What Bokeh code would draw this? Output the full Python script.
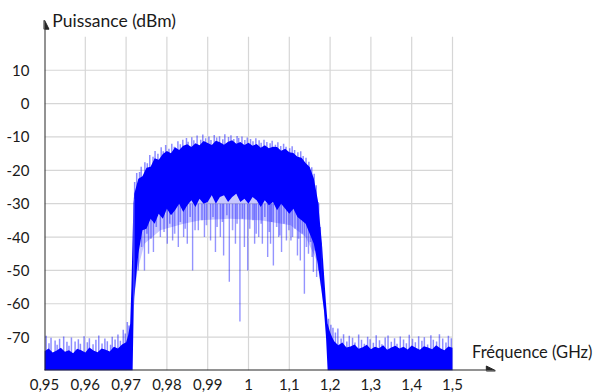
from bokeh.plotting import figure
from bokeh.models import Range1d, FixedTicker, Arrow, NormalHead, Label
from bokeh.embed import file_html
from bokeh.resources import INLINE

# ---- axis ticks ----
x_tick_pos = [0, 1, 2, 3, 4, 5, 6, 7, 8, 9, 10]
x_tick_labels = ["0,95", "0,96", "0,97", "0,98", "0,99", "1", "1,1", "1,2", "1,3", "1,4", "1,5"]
y_ticks = [10, 0, -10, -20, -30, -40, -50, -60, -70]
y_tick_labels = ["10", "0", "-10", "-20", "-30", "-40", "-50", "-60", "-70"]

# ---- dense part of the spectrum: position along axis, upper / lower level (dBm) ----
floor_l_x = [0.0, 0.1, 0.2, 0.3, 0.4, 0.5, 0.6, 0.7, 0.8, 0.9, 1.0, 1.1, 1.2, 1.3, 1.4,
             1.5, 1.6, 1.7, 1.8, 1.9, 2.0, 2.05, 2.10, 2.13, 2.16, 2.18]
floor_l_top = [-74.2, -73.4, -74.6, -74.0, -73.2, -74.4, -73.9, -74.8, -73.5, -73.9, -74.6,
               -73.1, -74.0, -74.5, -73.4, -73.8, -74.3, -72.9, -73.4, -72.2, -71.5, -69.5,
               -66, -55, -40, -30]
floor_l_bot = [-80] * 25 + [-66]

band_x = [2.2, 2.3, 2.4, 2.5, 2.6, 2.7, 2.8, 2.9, 3.0, 3.1, 3.2, 3.3, 3.4, 3.5, 3.6, 3.7,
          3.8, 3.9, 4.0, 4.1, 4.2, 4.3, 4.4, 4.5, 4.6, 4.7, 4.8, 4.9, 5.0, 5.1, 5.2, 5.3,
          5.4, 5.5, 5.6, 5.7, 5.8, 5.9, 6.0, 6.1, 6.2, 6.3, 6.4, 6.5, 6.6, 6.7, 6.8]
band_top = [-27, -22.5, -21.8, -19.2, -18.9, -16.4, -16.8, -15.1, -14.2, -14.9, -13.1, -13.9,
            -12.6, -12.2, -13.0, -11.9, -12.5, -11.2, -11.8, -12.4, -11.1, -11.6, -12.3, -11.4,
            -11.0, -12.0, -11.5, -12.4, -11.7, -12.6, -12.1, -13.2, -12.5, -13.4, -12.9, -13.0,
            -14.1, -13.5, -14.6, -14.8, -15.9, -16.2, -17.8, -19.0, -22.4, -29, -42]
band_bot = [-58, -45, -38, -37.5, -34.5, -36, -33, -34.5, -31.5, -33.5, -32, -30, -32.5,
            -30.5, -29, -31, -28.5, -30, -29.5, -27.5, -30, -28, -27.5, -29.5, -28, -27,
            -29.5, -28.5, -30, -28, -29, -31, -29, -30.5, -29.5, -32, -30, -31.5, -33, -31.5,
            -34, -35, -36, -39, -42, -48, -57]

floor_r_x = [6.85, 6.90, 6.94, 7.0, 7.05, 7.1, 7.2, 7.3, 7.4, 7.5, 7.6, 7.7, 7.8, 7.9, 8.0,
             8.1, 8.2, 8.3, 8.4, 8.5, 8.6, 8.7, 8.8, 8.9, 9.0, 9.1, 9.2, 9.3, 9.4, 9.5,
             9.6, 9.7, 9.8, 9.9, 10.0]
floor_r_top = [-51, -60, -66, -68.5, -70, -71.2, -72.4, -71.6, -73.1, -72.8, -72.2, -73.5, -73.0,
               -72.3, -73.6, -72.9, -73.3, -72.4, -73.8, -73.1, -72.6, -73.4, -72.9, -73.7,
               -72.5, -73.2, -73.8, -72.7, -73.1, -73.6, -72.4, -73.3, -73.9, -72.8, -73.2]
floor_r_bot = [-62, -70] + [-80] * 33

# lighter haze of the signal just below the dense band
light_x = [2.18, 2.28, 2.45, 2.84, 3.41, 3.82, 4.56, 5.29, 6.03, 6.40, 6.67, 6.81, 6.91]
light_low = [-60, -50, -42, -38, -36, -35, -34.5, -35, -36.5, -40, -47, -58, -68]
light_high = [-50, -42, -34, -31, -29, -28, -27, -28, -30, -33, -40, -50, -64]

# deep dips of the signal
dip_x = [2.30, 2.45, 2.55, 2.67, 2.84, 3.01, 3.14, 3.28, 3.41, 3.50, 3.63, 3.77, 3.92,
         4.07, 4.19, 4.31, 4.39, 4.53, 4.68, 4.79, 4.90, 4.98, 5.15, 5.25, 5.34,
         5.47, 5.54, 5.61, 5.74, 5.81, 5.93, 6.08, 6.20, 6.27, 6.37, 6.47, 6.59, 6.67]
dip_y = [-50, -50, -45, -44.5, -40, -42, -41, -43, -40, -42, -50, -38, -40,
         -41, -44.5, -40, -45.5, -53.4, -42, -65.3, -43, -50, -42, -40, -42,
         -46, -42, -48.5, -40, -44.5, -41, -40, -45.5, -47, -57, -45, -50.5, -52]
# shorter streaks below the band
streak_x = [2.38, 2.51, 2.61, 2.74, 2.93, 3.07, 3.19, 3.33, 3.45, 3.57, 3.69, 3.86, 3.97,
            4.13, 4.23, 4.36, 4.47, 4.61, 4.72, 4.85, 5.03, 5.11, 5.19, 5.31, 5.40, 5.51,
            5.57, 5.69, 5.77, 5.87, 5.99, 6.04, 6.14, 6.23, 6.32, 6.42, 6.52, 6.56, 6.63, 6.72]
streak_y = [-43, -39, -40.5, -37, -38.5, -36, -39, -35.5, -37.5, -34, -38, -35, -36.5,
            -34, -37, -35.5, -33.5, -38, -36, -34.5, -37.5, -35, -39, -36, -34, -38.5,
            -35.5, -37, -39.5, -36, -38, -41, -37.5, -40.5, -39, -43, -41.5, -46, -44, -50]

# noise peaks above the floor
floor_tip_x = [0.04, 0.11, 0.16, 0.26, 0.31, 0.37, 0.47, 0.55, 0.60, 0.66, 0.75, 0.83, 0.88,
               0.97, 1.05, 1.10, 1.19, 1.26, 1.33, 1.41, 1.48, 1.54, 1.62, 1.66, 1.73, 1.80,
               1.86, 1.93, 1.98, 2.03, 2.07,
               6.96, 7.02, 7.07, 7.13, 7.19, 7.27, 7.33, 7.41, 7.47, 7.55, 7.61, 7.70, 7.77,
               7.84, 7.92, 7.98, 8.06, 8.13, 8.21, 8.27, 8.35, 8.42, 8.50, 8.58, 8.64, 8.72,
               8.80, 8.87, 8.94, 9.02, 9.09, 9.17, 9.25, 9.31, 9.39, 9.47, 9.53, 9.61, 9.68,
               9.76, 9.84, 9.90, 9.97]
floor_tip_y = [-69.6, -71.8, -70.2, -71.0, -72.3, -70.5, -69.8, -71.4, -72.6, -70.1, -71.3, -70.6,
               -72.0, -69.7, -71.5, -70.3, -72.1, -70.8, -69.5, -71.9, -70.4, -71.2, -72.3, -69.9,
               -70.7, -69.2, -71.1, -67.8, -68.9, -65.5, -66.5,
               -64.5, -66.3, -67.2, -68.6, -67.4, -70.4, -69.1, -71.3, -69.6, -70.2, -71.6, -69.2,
               -70.8, -72.0, -69.9, -70.6, -71.7, -69.4, -70.9, -72.1, -70.1, -69.5, -71.4, -70.3,
               -72.0, -69.8, -70.7, -71.8, -69.3, -70.5, -71.5, -69.7, -71.1, -70.0, -72.2, -69.4,
               -70.8, -71.3, -69.1, -70.4, -71.6, -69.6, -70.3]

# noise peaks on top of the band
band_tip_x = [2.21, 2.26, 2.33, 2.37, 2.46, 2.52, 2.58, 2.66, 2.71, 2.78, 2.86, 2.91, 2.97,
              3.05, 3.12, 3.18, 3.27, 3.33, 3.39, 3.48, 3.52, 3.61, 3.66, 3.74, 3.83, 3.88,
              3.95, 4.03, 4.08, 4.16, 4.22, 4.29, 4.37, 4.42, 4.51, 4.57, 4.64, 4.72, 4.76,
              4.84, 4.91, 4.97, 5.05, 5.11, 5.18, 5.26, 5.31, 5.38, 5.45, 5.53, 5.58, 5.66,
              5.72, 5.79, 5.86, 5.92, 6.01, 6.07, 6.13, 6.21, 6.28, 6.34, 6.41, 6.48, 6.55,
              6.61, 6.66, 6.71, 6.76]
band_tip_y = [-23.5, -20.8, -20.5, -18.9, -17.6, -17.9, -15.4, -15.9, -14.2, -15.0, -13.1, -14.3,
              -12.4, -13.5, -12.0, -12.9, -11.3, -12.2, -10.8, -10.3, -11.4, -10.1, -11.0, -9.6,
              -10.8, -9.3, -10.4, -9.9, -10.9, -9.4, -10.2, -9.8, -10.7, -9.2, -10.0, -9.5,
              -10.6, -9.7, -10.3, -9.9, -10.9, -10.2, -10.6, -11.3, -10.4, -11.0, -11.7, -10.8,
              -11.5, -11.9, -11.1, -12.3, -11.6, -12.7, -12.0, -12.9, -13.4, -12.8, -13.9, -14.6,
              -14.3, -15.7, -16.2, -17.4, -19.1, -21.0, -24.5, -29.5, -37]

BLUE = "#0000ff"
AXIS = "#262626"
GRID = "#d6d6d6"
FONT = "Lato"
TXT = "#1a1a1a"

p = figure(width=595, height=392, output_backend="svg", toolbar_location=None,
           x_range=Range1d(0, 13.505), y_range=Range1d(-80, 30.9),
           min_border_left=44, min_border_right=0, min_border_top=0, min_border_bottom=19)
p.outline_line_color = None
p.xgrid.visible = False
p.ygrid.visible = False

# grid
grid_top = 20
p.segment(x0=x_tick_pos[1:], y0=[-80] * 10, x1=x_tick_pos[1:], y1=[grid_top] * 10,
          line_color=GRID, line_width=1.2)
p.segment(x0=[0] * len(y_ticks), y0=y_ticks, x1=[10] * len(y_ticks), y1=y_ticks,
          line_color=GRID, line_width=1.2)

# signal
p.varea(x=light_x, y1=light_low, y2=light_high, fill_color=BLUE, fill_alpha=0.22)
p.segment(x0=streak_x, y0=[-30] * len(streak_x), x1=streak_x, y1=streak_y,
          line_color=BLUE, line_alpha=0.38, line_width=1.6)
p.segment(x0=dip_x, y0=[-30] * len(dip_x), x1=dip_x, y1=dip_y,
          line_color=BLUE, line_alpha=0.42, line_width=1.4)
p.segment(x0=band_tip_x, y0=[v - 5 for v in band_tip_y], x1=band_tip_x, y1=band_tip_y,
          line_color=BLUE, line_alpha=0.45, line_width=1.5)
p.segment(x0=floor_tip_x, y0=[-76] * len(floor_tip_x), x1=floor_tip_x, y1=floor_tip_y,
          line_color=BLUE, line_alpha=0.45, line_width=1.5)
p.varea(x=floor_l_x, y1=floor_l_bot, y2=floor_l_top, fill_color=BLUE)
p.varea(x=band_x, y1=band_bot, y2=band_top, fill_color=BLUE)
p.varea(x=floor_r_x, y1=floor_r_bot, y2=floor_r_top, fill_color=BLUE)
# join the pieces at the band edges
p.varea(x=[floor_l_x[-1], band_x[0]], y1=[floor_l_bot[-1], band_bot[0]],
        y2=[floor_l_top[-1], band_top[0]], fill_color=BLUE)
p.varea(x=[band_x[-1], floor_r_x[0]], y1=[band_bot[-1], floor_r_bot[0]],
        y2=[band_top[-1], floor_r_top[0]], fill_color=BLUE)

# axes
for ax, ticks, labels in ((p.xaxis, x_tick_pos, x_tick_labels), (p.yaxis, y_ticks, y_tick_labels)):
    ax.ticker = FixedTicker(ticks=ticks)
    ax.major_label_overrides = {t: l for t, l in zip(ticks, labels)}
    ax.axis_line_color = None
    ax.major_tick_line_color = None
    ax.minor_tick_line_color = None
    ax.major_label_text_font = FONT
    ax.major_label_text_font_size = "15px"
    ax.major_label_text_color = TXT
p.xaxis.major_label_standoff = 2
p.yaxis.major_label_standoff = 9
p.yaxis.major_label_text_align = "center"

p.add_layout(Arrow(end=NormalHead(size=9, fill_color=AXIS, line_color=AXIS),
                   x_start=0, y_start=-80, x_end=0, y_end=25,
                   line_color=AXIS, line_width=2))
p.add_layout(Arrow(end=NormalHead(size=9, fill_color=AXIS, line_color=AXIS),
                   x_start=-0.03, y_start=-80, x_end=11.05, y_end=-80,
                   line_color=AXIS, line_width=2))

p.add_layout(Label(x=0.19, y=24.76, text="Puissance (dBm)", text_font=FONT,
                   text_font_size="17.5px", text_color=TXT, text_baseline="alphabetic"))
p.add_layout(Label(x=13.43, y=-74.35, text="Fréquence (GHz)", text_font=FONT,
                   text_font_size="16.5px", text_color=TXT, text_baseline="alphabetic",
                   text_align="right"))

open("out.html", "w").write(file_html(p, INLINE))
